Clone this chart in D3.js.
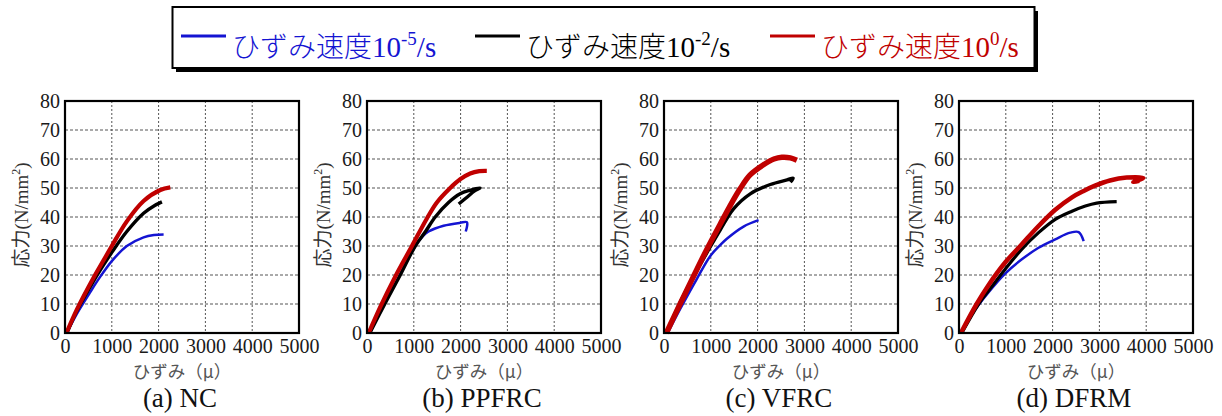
<!DOCTYPE html>
<html>
<head>
<meta charset="utf-8">
<script src="https://cdn.jsdelivr.net/npm/d3@7"></script>
<style>
  html, body { margin: 0; padding: 0; background: #fff; }
  svg text { font-family: "Liberation Serif", "Times New Roman", "Noto Sans CJK JP", serif; }
</style>
</head>
<body>
<svg id="chart" width="1222" height="416"></svg>
<script>
// Stress–strain curves (strain in μ, stress in N/mm²) for three strain rates.
const panelTitles = ["(a) NC", "(b) PPFRC", "(c) VFRC", "(d) DFRM"];
const seriesNames = ["10^-5", "10^-2", "10^0"];
const seriesColors = ["#1414d2", "#000000", "#c00000"];
const xTicks = [0, 1000, 2000, 3000, 4000, 5000];
const yTicks = [0, 10, 20, 30, 40, 50, 60, 70, 80];

// (a) NC
const ncSlow = [[40,0],[250,6.5],[536,14],[736,19],[1000,24.8],[1321,30],[1679,33],[1900,33.8],[2107,34]];
const ncMid  = [[40,0],[250,7.5],[607,17.8],[821,23.4],[1000,27.8],[1321,35],[1679,41.3],[1900,43.8],[2071,45.2]];
const ncFast = [[30,0],[250,8],[607,19],[821,25],[1000,30],[1321,38.5],[1679,45.5],[2036,49.3],[2250,50.2]];

// (b) PPFRC
const ppSlow = [[60,0],[370,10],[700,20],[1031,30],[1200,33.5],[1316,35],[1636,37],[1991,38],[2134,38.2],[2140,37],[2110,35]];
const ppMid  = [[60,0],[380,10],[711,20],[1031,30],[1250,35],[1458,40],[1742,45],[1991,48],[2200,49.2],[2418,50],[2300,49],[2150,47],[1960,44.5]];
const ppFast = [[36,0],[284,9],[605,19.5],[960,30],[1280,39.5],[1493,45],[1778,50],[1991,53],[2205,55],[2400,55.8],[2560,55.9]];

// (c) VFRC
const vfSlow = [[80,0],[343,8.2],[700,18.6],[986,26.5],[1200,30.3],[1343,32.5],[1700,36.7],[2021,38.9]];
const vfMid  = [[60,0],[300,9],[600,18.5],[1000,30],[1200,35.5],[1486,42.8],[1843,48],[2271,51.2],[2629,52.8],[2760,53.4],[2700,52]];
const vfFast = [[50,0],[343,10],[629,19.5],[914,28.8],[1200,37.5],[1400,43.5],[1629,49.8],[1840,54.5],[2126,58],[2350,60],[2518,60.6],[2700,60.4],[2839,59.6]];

// (d) DFRM
const dfSlow = [[60,0],[300,7],[629,14],[986,20.5],[1343,25.4],[1700,29.4],[2057,32.3],[2379,34.6],[2557,34.8],[2664,31.7]];
const dfMid  = [[60,0],[420,10],[700,16],[986,22],[1343,28.9],[1700,34.6],[2057,39.2],[2414,42],[2700,43.8],[2942,44.8],[3369,45.3]];
const dfFast = [[40,0],[377,10],[629,16.5],[986,24.3],[1343,30.6],[1700,36.9],[2057,42.5],[2414,46.8],[2664,49],[2906,50.8],[3226,52.6],[3583,53.6],[3939,53.5],[3725,52],[3850,52.5]];

const panelData = [
  [ncSlow, ncMid, ncFast],
  [ppSlow, ppMid, ppFast],
  [vfSlow, vfMid, vfFast],
  [dfSlow, dfMid, dfFast]
];

const svg = d3.select("#chart");
const panelLeft = [65, 367, 664, 959];
const plotW = 234, plotH = 232, plotTop = 101;
// stroke widths per panel and series (slow, mid, fast)
const lineWidths = [[2.5, 3.4, 4.2], [2.5, 3.4, 4.2], [2.5, 3.4, 5.5], [2.5, 3.2, 4.5]];
const serif = "'Liberation Serif', serif";
const cjk = "'Noto Sans CJK JP', sans-serif";

panelData.forEach((series, pi) => {
  const g = svg.append("g").attr("transform", `translate(${panelLeft[pi]},${plotTop})`);
  const x = d3.scaleLinear().domain([0, 5000]).range([0, plotW]);
  const y = d3.scaleLinear().domain([0, 80]).range([plotH, 0]);

  // dashed grid
  g.append("g").selectAll("line").data(xTicks.slice(1, -1)).join("line")
    .attr("x1", d => x(d)).attr("x2", d => x(d)).attr("y1", 0).attr("y2", plotH)
    .attr("stroke", "#555").attr("stroke-width", 1).attr("stroke-dasharray", "2,2");
  g.append("g").selectAll("line").data(yTicks.slice(1, -1)).join("line")
    .attr("y1", d => y(d)).attr("y2", d => y(d)).attr("x1", 0).attr("x2", plotW)
    .attr("stroke", "#555").attr("stroke-width", 1).attr("stroke-dasharray", "3,2");

  // axes with tick labels
  const xAxis = g.append("g").attr("transform", `translate(0,${plotH})`)
    .call(d3.axisBottom(x).tickValues(xTicks).tickSize(0).tickPadding(6).tickFormat(d3.format("d")));
  const yAxis = g.append("g")
    .call(d3.axisLeft(y).tickValues(yTicks).tickSize(0).tickPadding(5));
  [xAxis, yAxis].forEach(a => {
    a.attr("font-family", serif).attr("font-size", 20);
    a.select(".domain").remove();
    a.selectAll("text").attr("fill", "#1a1a1a").attr("font-family", serif).style("font-family", serif);
  });

  // curves
  const line = d3.line().x(d => x(d[0])).y(d => y(d[1])).curve(d3.curveCatmullRom.alpha(0.5));
  series.forEach((pts, si) => {
    g.append("path").datum(pts)
      .attr("d", line)
      .attr("fill", "none")
      .attr("stroke", seriesColors[si])
      .attr("stroke-width", lineWidths[pi][si])
      .attr("stroke-linejoin", "round");
  });

  // frame
  g.append("rect").attr("x", 0).attr("y", 0).attr("width", plotW).attr("height", plotH)
    .attr("fill", "none").attr("stroke", "#000").attr("stroke-width", 2.2);

  // axis titles
  g.append("text")
    .attr("x", plotW / 2).attr("y", plotH + 45)
    .attr("text-anchor", "middle").attr("font-size", 17.5).attr("fill", "#555")
    .style("font-family", cjk)
    .text("ひずみ（μ）");

  const yl = g.append("text")
    .attr("transform", `translate(-37,${plotH / 2 - 2}) rotate(-90)`)
    .attr("text-anchor", "middle").attr("font-size", 19).attr("fill", "#333");
  yl.append("tspan").style("font-family", cjk).text("応力");
  yl.append("tspan").text("(N/mm");
  yl.append("tspan").attr("font-size", 12).attr("dy", -8).text("2");
  yl.append("tspan").attr("dy", 8).text(")");

  // caption
  g.append("text")
    .attr("x", plotW / 2 - 2).attr("y", plotH + 74)
    .attr("text-anchor", "middle").attr("font-size", 27).attr("fill", "#111")
    .text(panelTitles[pi]);
});

// legend box with drop shadow
const lg = svg.append("g");
lg.append("rect").attr("x", 176).attr("y", 11).attr("width", 862).attr("height", 61).attr("fill", "#000");
lg.append("rect").attr("x", 172.5).attr("y", 7).attr("width", 862).attr("height", 61)
  .attr("fill", "#fff").attr("stroke", "#000").attr("stroke-width", 2);

const legendLineX = [181, 475, 770];
seriesNames.forEach((name, i) => {
  const [base, exp] = name.split("^");
  lg.append("line")
    .attr("x1", legendLineX[i]).attr("x2", legendLineX[i] + 45)
    .attr("y1", 36).attr("y2", 36)
    .attr("stroke", seriesColors[i]).attr("stroke-width", 3);
  const t = lg.append("text")
    .attr("x", legendLineX[i] + 51).attr("y", 57)
    .attr("font-size", 29).attr("fill", seriesColors[i]);
  t.append("tspan").style("font-family", cjk)
    .attr("font-size", 28).attr("font-weight", 300).text("ひずみ速度");
  t.append("tspan").text(base);
  t.append("tspan").attr("font-size", 19).attr("dy", -12).text(exp);
  t.append("tspan").attr("dy", 12).text("/s");
});
</script>
</body>
</html>
